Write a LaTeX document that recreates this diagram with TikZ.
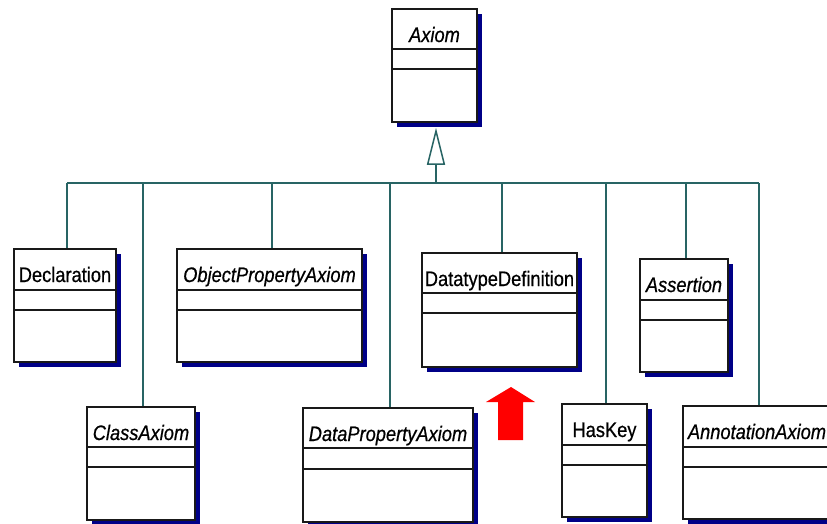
\documentclass[tikz,border=0pt]{standalone}
\usepackage{fontspec}
\setmainfont{Liberation Sans}[FakeStretch=0.87, FakeBold=0.6]
\usetikzlibrary{arrows.meta,fit}

\definecolor{umlshadowc}{RGB}{0,0,135}
\definecolor{linkc}{RGB}{40,100,100}
\definecolor{arrowred}{RGB}{255,0,0}

\tikzset{
  classbox/.style={draw=black!90, line width=1.6pt, fill=white, inner sep=0pt},
  umlshadow/.style={fill=umlshadowc},
  divider/.style={draw=black!90, line width=1.6pt},
  classname/.style={font=\fontsize{21}{23}\selectfont, inner sep=0pt},
  link/.style={draw=linkc, line width=1.5pt},
  generalization/.style={link, -{Triangle[open, length=37pt, width=18pt, fill=white]}, shorten >=5pt},
  hint/.style={fill=arrowred}
}

% #1 name, #2 left, #3 top, #4 right, #5 bottom, #6 first divider, #7 second divider, #8 label
\newcommand\umlclass[8]{%
  \fill[umlshadow] (#2+4.5,#3+5) rectangle (#4+4.5,#5+5);
  \node[classbox, fit={(#2,#3) (#4,#5)}] (#1) {};
  \draw[divider] (#2,#6) -- (#4,#6) (#2,#7) -- (#4,#7);
  \node[classname, anchor=base] (#1-name) at ({(#2+#4)/2},#3+33) {#8};
}

\begin{document}
\begin{tikzpicture}[x=1pt, y=-1pt]
  \useasboundingbox (0,0) rectangle (827,523);
  \clip (0,0) rectangle (827,523);

  % superclass
  \umlclass{axiom}{392}{9}{477}{122}{49}{69}{\itshape Axiom}

  % first row
  \umlclass{decl}{14}{249}{116}{362}{290}{310}{Declaration}
  \umlclass{opa}{177}{249}{362}{362}{290}{310}{\itshape ObjectPropertyAxiom}
  \umlclass{dtd}{422}{253}{577}{367}{293}{313}{DatatypeDefinition}
  \umlclass{assert}{640}{259}{728}{372}{300}{320}{\itshape Assertion}

  % second row
  \umlclass{cla}{87}{407}{195}{520}{447}{467}{\itshape ClassAxiom}
  \umlclass{dpa}{303}{408}{473}{522}{448}{469}{\itshape DataPropertyAxiom}
  \umlclass{haskey}{562}{404}{647}{517}{445}{465}{HasKey}
  \umlclass{anno}{683}{406}{831}{519}{447}{467}{\itshape AnnotationAxiom}

  % generalization bus
  \coordinate (bus) at (436,183);
  \draw[link] (67,183) coordinate (busL) -- (759,183) coordinate (busR);
  \draw[generalization] (bus) -- (bus |- axiom.south);

  \foreach \c/\x in {decl/67, cla/143, opa/272, dpa/390, dtd/502, haskey/606, assert/686, anno/759}
    \draw[link] (\x,183) -- (\x,0 |- \c.north);

  % highlight arrow
  \fill[hint] (511,387) -- (535,402) -- (523,402) -- (523,440)
              -- (498,440) -- (498,402) -- (486,402) -- cycle;
\end{tikzpicture}
\end{document}
